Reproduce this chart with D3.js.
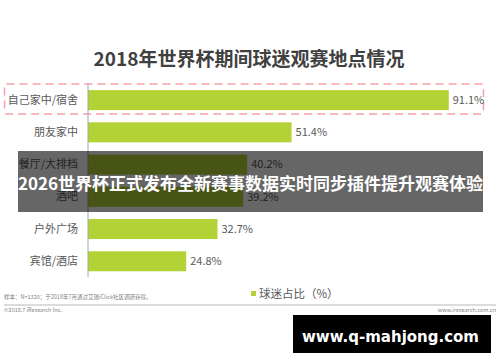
<!DOCTYPE html>
<html><head><meta charset="utf-8">
<script src="https://cdn.jsdelivr.net/npm/d3@7"></script>
<style>
html,body{margin:0;padding:0;background:#fff;}
svg{display:block;font-family:"Microsoft YaHei","Noto Sans CJK SC","Noto Sans",sans-serif;}
</style></head>
<body>
<svg id="chart" width="500" height="362"></svg>
<script>
const title = "2018年世界杯期间球迷观赛地点情况";
const categories = ["自己家中/宿舍","朋友家中","餐厅/大排档","酒吧","户外广场","宾馆/酒店"];
const values = [91.1, 51.4, 40.2, 39.2, 32.7, 24.8];
const legendLabel = "球迷占比（%）";
const noteText = "样本：N=1320；于2018年7月通过艾瑞iClick社区调研获得。";
const copyText = "©2018.7 iResearch Inc.";
const siteText = "www.iresearch.com.cn";
const bannerText = "2026世界杯正式发布全新赛事数据实时同步插件提升观赛体验";
const watermarkText = "www.q-mahjong.com";

const svg = d3.select("#chart");
const green = "#b2d235";
const gray = "#595959";

svg.append("text").attr("x", 249).attr("y", 66).attr("text-anchor", "middle")
  .attr("font-size", 19).attr("font-weight", "bold").attr("fill", "#404040").text(title);

const x = d3.scaleLinear().domain([0, 100]).range([88, 484]);
const y = d3.scaleBand().domain(categories).range([84, 277.4]).paddingInner(0.38).paddingOuter(0.19);

// highlight dashed box around first category
svg.append("rect").attr("x", 4.5).attr("y", 84).attr("width", 479).attr("height", 30).attr("rx", 2)
  .attr("fill", "none").attr("stroke", "#f4a3aa").attr("stroke-width", 1.5).attr("stroke-dasharray", "8,5");

svg.append("g").selectAll("rect").data(values).join("rect")
  .attr("x", x(0)).attr("y", (d, i) => y(categories[i]))
  .attr("width", d => x(d) - x(0)).attr("height", y.bandwidth()).attr("fill", green);

svg.append("g").selectAll("text").data(values).join("text")
  .attr("x", d => x(d) + 4).attr("y", (d, i) => y(categories[i]) + y.bandwidth() / 2)
  .attr("dy", "0.35em").attr("font-size", 11).attr("fill", gray).text(d => d.toFixed(1) + "%");

const yAxis = svg.append("g").attr("transform", `translate(${x(0)},0)`)
  .call(d3.axisLeft(y).tickSize(0).tickPadding(10));
yAxis.select(".domain").attr("stroke", "#a6a6a6").attr("d", `M0,84V277`);
yAxis.selectAll("text").attr("font-size", 11).attr("fill", gray)
  .attr("font-family", '"Microsoft YaHei","Noto Sans CJK SC",sans-serif');

// legend
svg.append("rect").attr("x", 251).attr("y", 291).attr("width", 5).attr("height", 5).attr("fill", green);
svg.append("text").attr("x", 259).attr("y", 298).attr("font-size", 11.5).attr("fill", gray).text(legendLabel);

// footer
svg.append("text").attr("x", 4).attr("y", 299).attr("font-size", 5.5).attr("fill", "#7f7f7f").text(noteText);
svg.append("line").attr("x1", 4).attr("x2", 496).attr("y1", 305).attr("y2", 305).attr("stroke", "#a6a6a6").attr("stroke-width", 0.8);
svg.append("text").attr("x", 4).attr("y", 312).attr("font-size", 5.5).attr("fill", "#7f7f7f").text(copyText);
svg.append("text").attr("x", 496).attr("y", 312).attr("text-anchor", "end").attr("font-size", 5.5).attr("fill", "#7f7f7f").text(siteText);

// overlay banner
svg.append("rect").attr("x", 18).attr("y", 151).attr("width", 465).attr("height", 61).attr("fill", "#000").attr("fill-opacity", 0.6);
svg.append("text").attr("x", 250.5).attr("y", 190).attr("text-anchor", "middle").attr("font-size", 17)
  .attr("font-weight", "bold").attr("fill", "#fff").text(bannerText);

// watermark
svg.append("rect").attr("x", 293).attr("y", 315).attr("width", 198).attr("height", 38).attr("fill", "#000");
svg.append("text").attr("x", 302).attr("y", 342).attr("font-size", 16)
  .attr("textLength", 177).attr("lengthAdjust", "spacingAndGlyphs")
  .attr("font-weight", "bold").attr("font-family", '"DejaVu Sans",sans-serif').attr("fill", "#fff").text(watermarkText);
</script>
</body></html>
